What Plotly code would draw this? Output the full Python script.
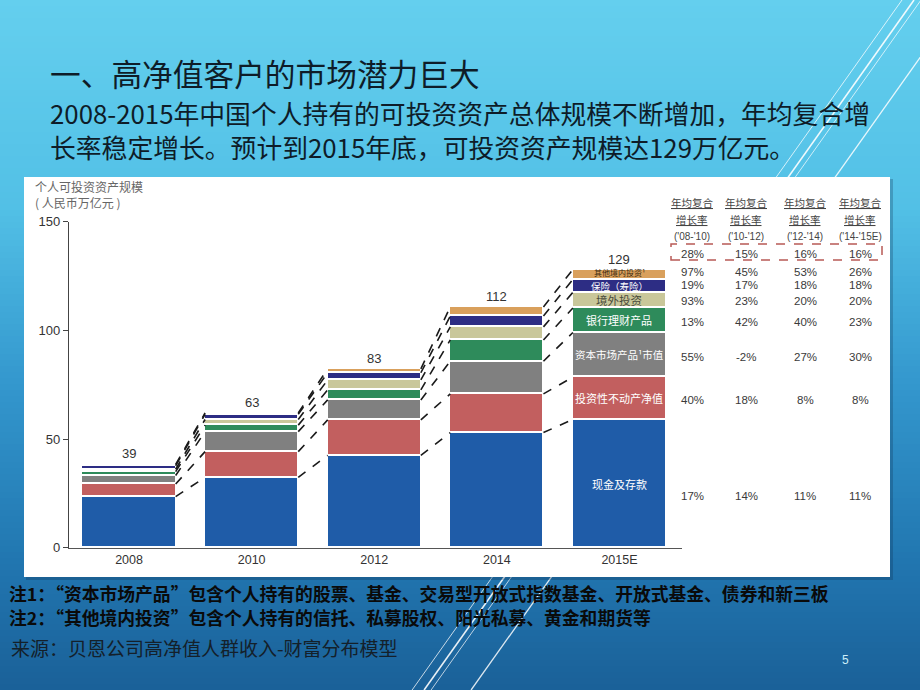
import plotly.graph_objects as go

# ---------------- data ----------------
years = ["2008", "2010", "2012", "2014", "2015E"]
total_labels = ["39", "63", "83", "112", "129"]
categories = ["现金及存款", "投资性不动产净值", "资本市场产品¹市值", "银行理财产品",
              "境外投资", "保险（寿险）", "其他境内投资¹"]
cash = [23.5, 32.4, 42.5, 53.0, 59.0]
real_estate = [5.8, 11.8, 16.3, 17.8, 19.5]
capital_mkt = [3.9, 9.2, 9.2, 15.0, 20.5]
bank_wm = [1.8, 3.0, 4.6, 9.8, 11.3]
overseas = [1.1, 2.6, 4.6, 6.0, 7.2]
insurance = [1.6, 2.4, 3.3, 5.0, 6.0]
other_dom = [0.6, 0.6, 1.8, 4.2, 4.5]
series = [cash, real_estate, capital_mkt, bank_wm, overseas, insurance, other_dom]

periods = ["('08-'10)", "('10-'12)", "('12-'14)", "('14-'15E)"]
cagr_total = ["28%", "15%", "16%", "16%"]
cagr_other = ["97%", "45%", "53%", "26%"]
cagr_insurance = ["19%", "17%", "18%", "18%"]
cagr_overseas = ["93%", "23%", "20%", "20%"]
cagr_bank = ["13%", "42%", "40%", "23%"]
cagr_capital = ["55%", "-2%", "27%", "30%"]
cagr_real_estate = ["40%", "18%", "8%", "8%"]
cagr_cash = ["17%", "14%", "11%", "11%"]
cagr_rows = [cagr_total, cagr_other, cagr_insurance, cagr_overseas,
             cagr_bank, cagr_capital, cagr_real_estate, cagr_cash]

# ---------------- styling ----------------
W, H = 920, 690
colors = ["#1f5ca8", "#c25f5f", "#808080", "#2e8b5b", "#c9c79a", "#2d2d84", "#d9a05c"]
label_colors = ["white", "white", "white", "white", "#4a4a3a", "white", "#3a2a10"]
label_sizes = [11, 11, 10.5, 11, 11.5, 9.5, 8]
label_shift = [0, 0, 0, 0, 0, 0, 1.5]
CJK = "Noto Sans CJK SC"
NUM = "Liberation Sans, Noto Sans CJK SC"
BAR_W = 0.76


def px(x):
    return x / W


def py(y):
    return 1 - y / H


def lerp(c1, c2, t):
    return tuple(int(round(a + (b - a) * t)) for a, b in zip(c1, c2))


def note(x, y, text, font, xanchor="left"):
    return dict(x=px(x), y=py(y), xref="paper", yref="paper", text=text,
                showarrow=False, xanchor=xanchor, yanchor="middle", font=font)


fig = go.Figure()

xs = list(range(len(years)))
for name, vals, col in zip(categories, series, colors):
    fig.add_trace(go.Bar(
        x=xs, y=vals, name=name, width=BAR_W,
        marker=dict(color=col, line=dict(color="white", width=1.3)),
        showlegend=False, hoverinfo="skip"))

# cumulative tops
cum = []
running = [0.0] * len(years)
for vals in series:
    running = [r + v for r, v in zip(running, vals)]
    cum.append(list(running))

# dashed connectors between bars
cx, cy = [], []
for i in range(len(years) - 1):
    for k in range(len(series)):
        cx += [i + BAR_W / 2, i + 1 - BAR_W / 2, None]
        cy += [cum[k][i], cum[k][i + 1], None]
fig.add_trace(go.Scatter(x=cx, y=cy, mode="lines",
                         line=dict(color="#1a1a1a", width=1.6, dash="dash"),
                         showlegend=False, hoverinfo="skip"))

annotations = []
# totals above bars
for i, t in enumerate(total_labels):
    annotations.append(dict(x=i, y=cum[-1][i], xref="x", yref="y", text=t,
                            showarrow=False, xanchor="center", yanchor="bottom", yshift=1,
                            font=dict(family=NUM, size=13, color="#333333")))

# labels inside the 2015E bar
last = len(years) - 1
prev = 0.0
for k, name in enumerate(categories):
    mid = (prev + cum[k][last]) / 2
    prev = cum[k][last]
    annotations.append(dict(x=last, y=mid, xref="x", yref="y", text=name,
                            showarrow=False, xanchor="center", yanchor="middle",
                            yshift=label_shift[k], borderpad=0,
                            font=dict(family=CJK, size=label_sizes[k], color=label_colors[k])))

# growth table
col_x = [692, 746, 805, 860]
row_y = [254, 272, 285, 301, 322, 357, 400, 496]
head_font = dict(family=CJK, size=10.5, color="#444444")
period_font = dict(family=NUM, size=10, color="#444444")
pct_font = dict(family=NUM, size=11.5, color="#3a3a3a")
for j, cxp in enumerate(col_x):
    annotations.append(note(cxp, 203, "<u>年均复合</u>", head_font, "center"))
    annotations.append(note(cxp, 220, "<u>增长率</u>", head_font, "center"))
    annotations.append(note(cxp, 236, periods[j], period_font, "center"))
    for r, rowvals in enumerate(cagr_rows):
        annotations.append(note(cxp, row_y[r], rowvals[j], pct_font, "center"))

# axis title (two lines)
axt = note(33, 195, "个人可投资资产规模<br>( 人民币万亿元 )",
           dict(family=CJK, size=12, color="#666666"))
axt["align"] = "left"
annotations.append(axt)

# slide texts
TXT = "#0e1c28"
annotations.append(note(48, 73, "一、高净值客户的市场潜力巨大",
                        dict(family=CJK, size=30.7, color=TXT)))
sub = note(48, 129, "2008-2015年中国个人持有的可投资资产总体规模不断增加，年均复合增<br>"
                    "长率稳定增长。预计到2015年底，可投资资产规模达129万亿元。",
           dict(family=CJK, size=25.8, color=TXT))
sub["align"] = "left"
annotations.append(sub)
annotations.append(note(7, 593, "<b>注1：“资本市场产品”包含个人持有的股票、基金、交易型开放式指数基金、开放式基金、债券和新三板</b>",
                        dict(family=CJK, size=17.8, color="#0a0a0a")))
annotations.append(note(7, 617, "<b>注2：“其他境内投资”包含个人持有的信托、私募股权、阳光私募、黄金和期货等</b>",
                        dict(family=CJK, size=17.8, color="#0a0a0a")))
annotations.append(note(9, 647, "来源：贝恩公司高净值人群收入-财富分布模型",
                        dict(family=CJK, size=19, color="#14202a")))
annotations.append(note(845, 660, "5", dict(family=NUM, size=12, color="#cdeefa"), "center"))

# ---------------- shapes ----------------
shapes = []
stops = [(0.0, (100, 207, 238)), (0.3, (82, 192, 230)), (0.55, (52, 152, 206)),
         (0.8, (34, 120, 178)), (1.0, (26, 96, 152))]
n_bands = 115
for b in range(n_bands):
    t = (b + 0.5) / n_bands
    for s in range(len(stops) - 1):
        if stops[s][0] <= t <= stops[s + 1][0]:
            tt = (t - stops[s][0]) / (stops[s + 1][0] - stops[s][0])
            c = lerp(stops[s][1], stops[s + 1][1], tt)
            break
    y_top = 1 - b / n_bands + (0.05 if b == 0 else 0)
    y_bot = 1 - (b + 1) / n_bands - (0.05 if b == n_bands - 1 else 0.001)
    shapes.append(dict(type="rect", xref="paper", yref="paper", layer="below",
                       x0=-0.05, x1=1.05, y0=y_bot, y1=y_top,
                       line=dict(width=0), fillcolor="rgb(%d,%d,%d)" % c))

# decorative diagonal lines
slope = 0.71
for x_top, wdt, op in ((902, 1.0, 0.75), (914, 1.6, 0.9), (921, 1.0, 0.7), (961, 1.3, 0.85)):
    shapes.append(dict(type="line", xref="paper", yref="paper", layer="below",
                       x0=px(x_top), y0=py(0), x1=px(x_top - slope * H), y1=py(H),
                       line=dict(color="rgba(255,255,255,%.2f)" % op, width=wdt)))

# white chart panel with a faint shadow
shapes.append(dict(type="rect", xref="paper", yref="paper", layer="below",
                   x0=px(26), x1=px(893), y0=py(580), y1=py(179),
                   line=dict(width=0), fillcolor="rgba(10,40,70,0.25)"))
shapes.append(dict(type="rect", xref="paper", yref="paper", layer="below",
                   x0=px(24), x1=px(890), y0=py(577), y1=py(177),
                   line=dict(width=0), fillcolor="white"))

# red dashed box around total growth row
shapes.append(dict(type="rect", xref="paper", yref="paper",
                   x0=px(671), x1=px(882), y0=py(260), y1=py(244),
                   line=dict(color="#b85a55", width=1.5, dash="dash")))

fig.update_layout(
    width=W, height=H, autosize=False,
    margin=dict(l=0, r=0, t=0, b=0, pad=0, autoexpand=False),
    paper_bgcolor="#3aa6d6", plot_bgcolor="rgba(0,0,0,0)",
    barmode="stack", bargap=0,
    shapes=shapes, annotations=annotations,
    xaxis=dict(domain=[px(69), px(682)], range=[-0.49, 4.51], automargin=False,
               tickvals=xs, ticktext=years, showgrid=False, zeroline=False,
               showline=True, linecolor="#555555", linewidth=1.3, ticks="",
               tickfont=dict(family=NUM, size=12.5, color="#333333"), fixedrange=True),
    yaxis=dict(domain=[py(547.7), py(221.7)], range=[0, 150], automargin=False,
               tickvals=[0, 50, 100, 150], showgrid=False, zeroline=False,
               showline=True, linecolor="#444444", linewidth=1.3,
               ticks="outside", ticklen=5, tickcolor="#444444", tickwidth=1.2,
               tickfont=dict(family=NUM, size=13, color="#333333"), fixedrange=True),
)

fig.write_html("out.html", config={"displayModeBar": False},
               post_script="document.body.style.margin='0';document.body.style.overflow='hidden';")
